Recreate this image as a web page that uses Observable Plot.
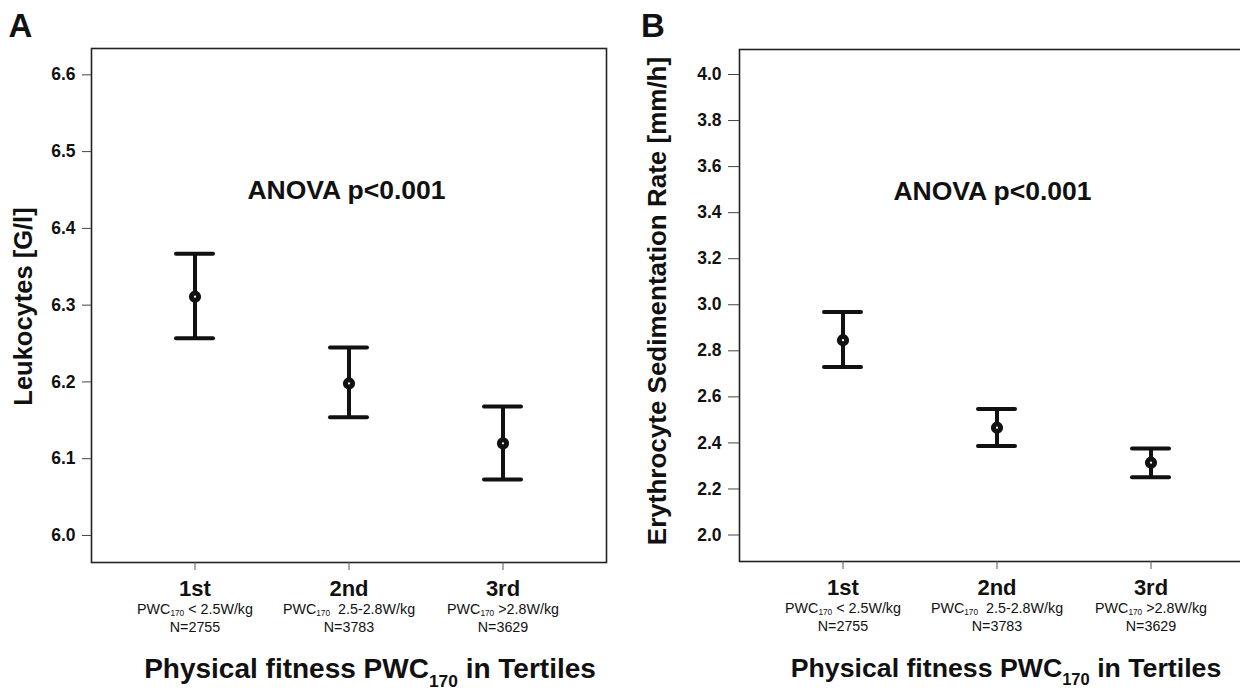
<!DOCTYPE html>
<html>
<head>
<meta charset="utf-8">
<script src="https://cdn.jsdelivr.net/npm/d3@7"></script>
<script src="https://cdn.jsdelivr.net/npm/@observablehq/plot@0.6"></script>
<style>
html, body { margin: 0; padding: 0; background: #fff; overflow: hidden; }
#wrap { position: relative; width: 1240px; height: 693px; overflow: hidden; font-family: "Liberation Sans", Arial, sans-serif; }
#wrap svg { position: absolute; top: 0; }
</style>
</head>
<body>
<div id="wrap"></div>
<script>
// ---------- data ----------
const tertiles = ["1st", "2nd", "3rd"];
const pwcLabels = ["PWC{170} < 2.5W/kg", "PWC{170}  2.5-2.8W/kg", "PWC{170} >2.8W/kg"];
const nLabels = ["N=2755", "N=3783", "N=3629"];

const leukoMean = [6.311, 6.198, 6.120];
const leukoLow  = [6.257, 6.154, 6.073];
const leukoHigh = [6.367, 6.245, 6.168];
const leukoTicks = [6.0, 6.1, 6.2, 6.3, 6.4, 6.5, 6.6];

const esrMean = [2.846, 2.466, 2.314];
const esrLow  = [2.730, 2.387, 2.251];
const esrHigh = [2.969, 2.547, 2.376];
const esrTicks = [2.0, 2.2, 2.4, 2.6, 2.8, 3.0, 3.2, 3.4, 3.6, 3.8, 4.0];

const xTitle = "Physical fitness PWC{170} in Tertiles";
const anovaText = "ANOVA p<0.001";

// ---------- helpers ----------
const NS = "http://www.w3.org/2000/svg";
function subscripts(svg) {
  svg.querySelectorAll("text").forEach(t => {
    const s = t.textContent;
    const m = s.match(/^(.*?)\{(\d+)\}(.*)$/);
    if (!m) return;
    const fs = parseFloat(getComputedStyle(t).fontSize);
    const small = fs < 18;
    const sh = fs * (small ? 0.18 : 0.3);
    while (t.firstChild) t.removeChild(t.firstChild);
    t.appendChild(document.createTextNode(m[1]));
    const sub = document.createElementNS(NS, "tspan");
    sub.setAttribute("font-size", (fs * (small ? 0.58 : 0.62)).toFixed(2));
    sub.setAttribute("dy", sh.toFixed(2));
    sub.textContent = m[2];
    t.appendChild(sub);
    const rest = document.createElementNS(NS, "tspan");
    rest.setAttribute("dy", (-sh).toFixed(2));
    rest.textContent = m[3];
    t.appendChild(rest);
    t.style.whiteSpace = "pre";
  });
}

function panel(o) {
  const rows = tertiles.map((c, i) => ({
    cat: c, mean: o.mean[i], lo: o.low[i], hi: o.high[i], pwc: pwcLabels[i], n: nLabels[i]
  }));
  const ink = "#111";
  return Plot.plot({
    width: o.width,
    height: 693,
    marginLeft: o.marginLeft,
    marginRight: o.marginRight,
    marginTop: o.marginTop,
    marginBottom: 693 - o.frameBottom,
    style: { fontFamily: "Liberation Sans, Arial, sans-serif", color: ink, background: "transparent", overflow: "visible" },
    x: { type: "band", domain: tertiles, paddingInner: 0.761, paddingOuter: 0.542, align: 0.5 },
    y: { domain: o.domain },
    marks: [
      Plot.frame({ stroke: "#222", strokeWidth: 1.6 }),
      Plot.axisY({ ticks: o.ticks, tickSize: o.tickSize, tickPadding: 7, tickFormat: d3.format(".1f"),
                   fontSize: 17.5, fontWeight: "bold", label: null, stroke: "#444" }),
      Plot.axisX({ tickSize: 8, tickFormat: () => "", label: null, stroke: "#555" }),
      Plot.ruleX(rows, { x: "cat", y1: "lo", y2: "hi", stroke: ink, strokeWidth: 4 }),
      Plot.tickY(rows, { x: "cat", y: "lo", stroke: ink, strokeWidth: 4, strokeLinecap: "round" }),
      Plot.tickY(rows, { x: "cat", y: "hi", stroke: ink, strokeWidth: 4, strokeLinecap: "round" }),
      Plot.dot(rows, { x: "cat", y: "mean", r: 3.6, fill: "white", stroke: ink, strokeWidth: 5 }),
      Plot.text(rows, { x: "cat", text: "cat", frameAnchor: "bottom", lineAnchor: "middle", dy: 26,
                        fontSize: 22, fontWeight: "bold", fill: ink }),
      Plot.text(rows, { x: "cat", text: "pwc", frameAnchor: "bottom", lineAnchor: "middle", dy: 46.5,
                        fontSize: 14.3, fill: ink }),
      Plot.text(rows, { x: "cat", text: "n", frameAnchor: "bottom", lineAnchor: "middle", dy: 64.5,
                        fontSize: 14.3, fill: ink }),
      Plot.text([xTitle], { frameAnchor: "bottom", lineAnchor: "middle", textAnchor: "middle",
                            dy: 107, dx: o.titleDx, fontSize: o.titleSize, fontWeight: "bold", fill: ink }),
      Plot.text([o.yLabel], { frameAnchor: "left", rotate: -90, textAnchor: "middle", lineAnchor: "middle",
                              dx: o.yLabelDx, dy: o.yLabelDy, fontSize: o.yLabelSize, fontWeight: "bold", fill: ink }),
      Plot.text([anovaText], { frameAnchor: "top", lineAnchor: "middle", textAnchor: "middle",
                               dy: 142, dx: o.anovaDx, fontSize: 26.5, fontWeight: "bold", fill: ink }),
      Plot.text([o.letter], { frameAnchor: "top-left", lineAnchor: "middle", textAnchor: "middle",
                              dx: o.letterDx, dy: o.letterDy, fontSize: 33, fontWeight: "bold", fill: ink })
    ]
  });
}

const wrap = document.getElementById("wrap");

const left = panel({
  mean: leukoMean, low: leukoLow, high: leukoHigh, ticks: leukoTicks,
  domain: [5.9648, 6.6343],
  width: 620, marginLeft: 91, marginRight: 14, marginTop: 48, frameBottom: 562,
  tickSize: 9, yLabel: "Leukocytes [G/l]", yLabelDx: -68, yLabelDy: 1, yLabelSize: 25.5,
  titleDx: 21, titleSize: 28, anovaDx: -2.5, letter: "A", letterDx: -71, letterDy: -22.5
});
left.style.left = "0px";
wrap.appendChild(left);

const right = panel({
  mean: esrMean, low: esrLow, high: esrHigh, ticks: esrTicks,
  domain: [1.885, 4.1086],
  width: 634, marginLeft: 119, marginRight: 0, marginTop: 49, frameBottom: 561,
  tickSize: 11, yLabel: "Erythrocyte Sedimentation Rate [mm/h]", yLabelDx: -82, yLabelDy: -4.5, yLabelSize: 26,
  titleDx: 9, titleSize: 26.7, anovaDx: -4.5, letter: "B", letterDx: -86.5, letterDy: -23.5
});
right.style.left = "620px";
wrap.appendChild(right);

subscripts(left);
subscripts(right);
</script>
</body>
</html>
